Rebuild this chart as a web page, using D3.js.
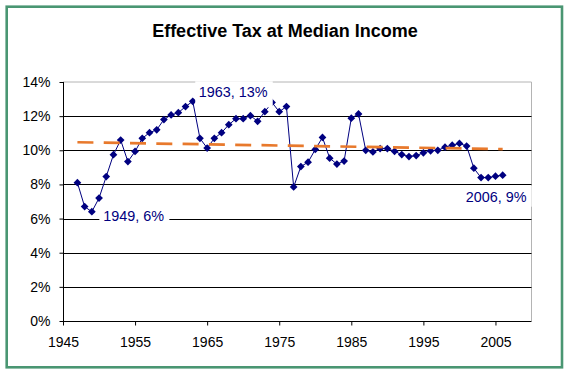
<!DOCTYPE html>
<html>
<head>
<meta charset="utf-8">
<script src="https://cdn.jsdelivr.net/npm/d3@7"></script>
<style>
  body { margin: 0; background: #fff; }
  text { font-family: "Liberation Sans", Arial, sans-serif; }
</style>
</head>
<body>
<div class="chart"></div>
<script>
// values
const years = [1947, 1948, 1949, 1950, 1951, 1952, 1953, 1954, 1955, 1956,
  1957, 1958, 1959, 1960, 1961, 1962, 1963, 1964, 1965, 1966,
  1967, 1968, 1969, 1970, 1971, 1972, 1973, 1974, 1975, 1976,
  1977, 1978, 1979, 1980, 1981, 1982, 1983, 1984, 1985, 1986,
  1987, 1988, 1989, 1990, 1991, 1992, 1993, 1994, 1995, 1996,
  1997, 1998, 1999, 2000, 2001, 2002, 2003, 2004, 2005, 2006]
const taxRate = [8.1, 6.7, 6.4, 7.2, 8.46, 9.74, 10.6, 9.34, 9.93, 10.7,
  11.03, 11.2, 11.8, 12.07, 12.2, 12.56, 12.87, 10.7, 10.13, 10.7,
  11.03, 11.5, 11.85, 11.85, 12.03, 11.7, 12.26, 12.8, 12.26, 12.56,
  7.85, 9.05, 9.3, 10.05, 10.75, 9.54, 9.19, 9.37, 11.88, 12.13,
  10.0, 9.9, 10.1, 10.1, 9.94, 9.75, 9.63, 9.69, 9.85, 9.97,
  10.0, 10.18, 10.3, 10.4, 10.25, 8.95, 8.4, 8.4, 8.48, 8.54]
const trendYears = [1947, 2006]
const trendValues = [10.47, 10.07]
const xTicks = [1945, 1955, 1965, 1975, 1985, 1995, 2005]
const yTicks = [0, 2, 4, 6, 8, 10, 12, 14]
const callouts = [
  { year: 1949, text: '1949, 6%' },
  { year: 1963, text: '1963, 13%' },
  { year: 2006, text: '2006, 9%' }
]

const width = 568
const height = 374
const plot = { left: 63, right: 531.5, top: 82, bottom: 321 }

const data = years.map((y, i) => ({ year: y, value: taxRate[i] }))
const trend = trendYears.map((y, i) => ({ year: y, value: trendValues[i] }))

const svg = d3.select('.chart')
  .append('svg')
  .attr('width', width)
  .attr('height', height)

// outer green frame
svg.append('rect')
  .attr('x', 6.7).attr('y', 6.7)
  .attr('width', 555.3).attr('height', 360.6)
  .attr('fill', '#fff')
  .attr('stroke', '#4a9672')
  .attr('stroke-width', 2.6)

svg.append('text')
  .attr('x', 285).attr('y', 37)
  .attr('text-anchor', 'middle')
  .style('font-weight', 'bold')
  .style('font-size', '18px')
  .text('Effective Tax at Median Income')

const xScale = d3.scaleLinear()
  .domain([1945, 2010])
  .range([plot.left, plot.right])

const yScale = d3.scaleLinear()
  .domain([0, 14])
  .range([plot.bottom, plot.top])

// plot area border (top + right grey)
svg.append('path')
  .attr('d', `M${plot.left},${yScale(14)}H${xScale(2010)}V${yScale(0)}`)
  .attr('fill', 'none')
  .attr('stroke', '#b4b4b4')
  .attr('stroke-width', 1)

// gridlines
svg.append('g')
  .selectAll('line')
  .data(yTicks.filter(d => d > 0 && d < 14))
  .enter()
  .append('line')
  .attr('x1', plot.left).attr('x2', xScale(2010))
  .attr('y1', d => Math.round(yScale(d)) + 0.5)
  .attr('y2', d => Math.round(yScale(d)) + 0.5)
  .attr('stroke', '#000')

const yAxis = svg.append('g')
  .attr('transform', `translate(${plot.left + 0.5},0)`)
  .call(d3.axisLeft(yScale).tickValues(yTicks).tickSize(4).tickPadding(9)
    .tickFormat(d => d + '%'))
const xAxis = svg.append('g')
  .attr('transform', `translate(0,${plot.bottom + 0.5})`)
  .call(d3.axisBottom(xScale).tickValues(xTicks).tickSize(4).tickPadding(12)
    .tickFormat(d3.format('d')))

;[yAxis, xAxis].forEach(ax => {
  ax.select('.domain').attr('stroke', '#000')
  ax.selectAll('line').attr('stroke', '#000')
  ax.selectAll('text')
    .style('font-family', '"Liberation Sans", Arial, sans-serif')
    .style('font-size', '14px')
    .attr('fill', '#000')
})
yAxis.select('.domain').attr('d', `M0,${plot.top}V${plot.bottom}`)
xAxis.select('.domain').attr('d', `M${plot.left},0H${xScale(2010)}`)

const line = d3.line()
  .x(d => xScale(d.year))
  .y(d => yScale(d.value))

svg.append('path')
  .datum(data)
  .attr('fill', 'none')
  .attr('stroke', '#000080')
  .attr('stroke-width', 1)
  .attr('d', line)

svg.append('g')
  .selectAll('path')
  .data(data)
  .enter()
  .append('path')
  .attr('d', d3.symbol(d3.symbolSquare, 30))
  .attr('transform', d => `translate(${xScale(d.year)},${yScale(d.value)}) rotate(45)`)
  .attr('fill', '#000080')

// linear trend line
svg.append('path')
  .datum(trend)
  .attr('fill', 'none')
  .attr('stroke', '#e8792c')
  .attr('stroke-width', 2.7)
  .attr('stroke-dasharray', '16,10.3')
  .attr('d', line)

// data labels with white boxes (offset from point, box padding l/r/t/b)
const labelPos = {
  1949: { dx: 11.5, dy: 9.5, pad: [4, 5, 2, 2] },
  1963: { dx: 6, dy: -4, pad: [3.5, 5, 3, 7] },
  2006: { dx: -37, dy: 26.5, pad: [3, 5, 3, 2] }
}
const labels = svg.append('g')
  .selectAll('g')
  .data(callouts)
  .enter()
  .append('g')
  .attr('transform', d => {
    const p = data.find(r => r.year === d.year)
    const o = labelPos[d.year]
    return `translate(${xScale(p.year) + o.dx},${yScale(p.value) + o.dy})`
  })
labels.append('text')
  .attr('fill', '#000080')
  .style('font-size', '14.4px')
  .text(d => d.text)
labels.insert('rect', 'text')
  .each(function(d) {
    const bb = this.nextSibling.getBBox()
    const [l, r, t, b] = labelPos[d.year].pad
    d3.select(this)
      .attr('x', bb.x - l).attr('y', bb.y - t)
      .attr('width', bb.width + l + r).attr('height', bb.height + t + b)
      .attr('fill', '#fff')
  })
</script>
</body>
</html>
